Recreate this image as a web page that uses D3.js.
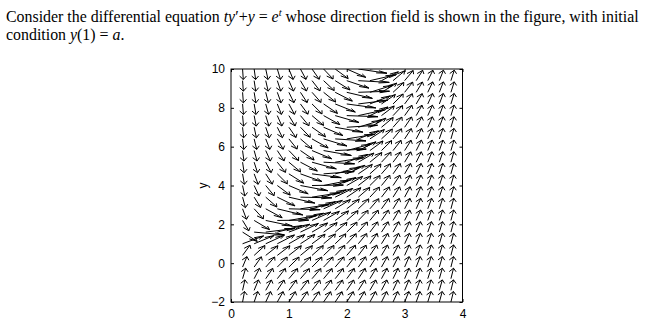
<!DOCTYPE html>
<html>
<head>
<meta charset="utf-8">
<script src="https://cdn.jsdelivr.net/npm/d3@7"></script>
<style>
  body { margin: 0; background: #fff; }
  svg { display: block; }
  .prompt { font-family: "Liberation Serif", "DejaVu Serif", serif; font-size: 15.9px; fill: #000; }
  .axis text { font-family: "Liberation Sans", Arial, sans-serif; font-size: 12px; fill: #000; }
</style>
</head>
<body>
<div id="chart"></div>
<script>
// grid of the direction field (t across, y up)
const tValues = [0.2, 0.4, 0.6, 0.8, 1.0, 1.2, 1.4, 1.6, 1.8, 2.0, 2.2, 2.4, 2.6, 2.8, 3.0, 3.2, 3.4, 3.6, 3.8];
const yValues = [-2, -1.4, -0.8, -0.2, 0.4, 1.0, 1.6, 2.2, 2.8, 3.4, 4.0, 4.6, 5.2, 5.8, 6.4, 7.0, 7.6, 8.2, 8.8, 9.4, 10];
const xTicks = [0, 1, 2, 3, 4];
const yTicks = [-2, 0, 2, 4, 6, 8, 10];
const xDomain = [0, 4];
const yDomain = [-2, 10];

// slope of t y' + y = e^t
const slope = (t, y) => (Math.exp(t) - y) / t;

const W = 654, H = 327;
const plot = { left: 231, right: 462.5, top: 69, bottom: 302 };

const svg = d3.select("#chart").append("svg")
    .attr("width", W)
    .attr("height", H);

// question text
const line1 = svg.append("text").attr("class", "prompt").attr("x", 6).attr("y", 22);
line1.append("tspan").text("Consider the differential equation ");
line1.append("tspan").attr("font-style", "italic").text("ty");
line1.append("tspan").text("\u2032+");
line1.append("tspan").attr("font-style", "italic").text("y");
line1.append("tspan").text(" = ");
line1.append("tspan").attr("font-style", "italic").text("e");
line1.append("tspan").attr("font-style", "italic").attr("font-size", "10.5px").attr("dy", -6).text("t");
line1.append("tspan").attr("dy", 6).text(" whose direction field is shown in the figure, with initial");

const line2 = svg.append("text").attr("class", "prompt").attr("x", 6).attr("y", 40);
line2.append("tspan").text("condition ");
line2.append("tspan").attr("font-style", "italic").text("y");
line2.append("tspan").text("(1) = ");
line2.append("tspan").attr("font-style", "italic").text("a");
line2.append("tspan").text(".");

const x = d3.scaleLinear().domain(xDomain).range([plot.left, plot.right]);
const y = d3.scaleLinear().domain(yDomain).range([plot.bottom, plot.top]);

svg.append("clipPath").attr("id", "clip")
    .append("rect")
    .attr("x", plot.left).attr("y", plot.top)
    .attr("width", plot.right - plot.left).attr("height", plot.bottom - plot.top);

// unit direction vectors, then autoscaled like quiver
let field = [];
for (let t of tValues) {
    for (let yv of yValues) {
        let s = slope(t, yv);
        let L = Math.sqrt(1 + s * s);
        field.push({ t, y: yv, u: 1 / L, v: s / L });
    }
}
let delx = (d3.max(tValues) - d3.min(tValues)) / tValues.length;
let dely = (d3.max(yValues) - d3.min(yValues)) / yValues.length;
let del = delx * delx + dely * dely;
let maxlen = d3.max(field, d => Math.sqrt((d.u * d.u + d.v * d.v) / del));
let k = 0.9 / maxlen;

const alpha = 0.33, beta = 0.33;
let g = svg.append("g").attr("clip-path", "url(#clip)")
    .attr("stroke", "#000").attr("stroke-width", 1).attr("fill", "none");

for (let d of field) {
    let u = d.u * k, v = d.v * k;
    let x1 = d.t + u, y1 = d.y + v;
    g.append("line")
        .attr("x1", x(d.t)).attr("y1", y(d.y))
        .attr("x2", x(x1)).attr("y2", y(y1));
    let hx = [x1 - alpha * (u + beta * v), x1, x1 - alpha * (u - beta * v)];
    let hy = [y1 - alpha * (v - beta * u), y1, y1 - alpha * (v + beta * u)];
    g.append("polyline")
        .attr("points", hx.map((hv, i) => `${x(hv)},${y(hy[i])}`).join(" "));
}

// frame and ticks
svg.append("rect")
    .attr("x", plot.left).attr("y", plot.top)
    .attr("width", plot.right - plot.left).attr("height", plot.bottom - plot.top)
    .attr("fill", "none").attr("stroke", "#000").attr("stroke-width", 1);

const tickLen = 3;
svg.append("g").attr("class", "axis")
    .attr("transform", `translate(0, ${plot.bottom})`)
    .call(d3.axisBottom(x).tickValues(xTicks).tickFormat(d3.format("d"))
        .tickSizeInner(-tickLen).tickSizeOuter(0).tickPadding(7));
svg.append("g").attr("class", "axis")
    .attr("transform", `translate(${plot.left}, 0)`)
    .call(d3.axisLeft(y).tickValues(yTicks).tickFormat(d3.format("d"))
        .tickSizeInner(-tickLen).tickSizeOuter(0).tickPadding(6));
svg.append("g").attr("class", "axis")
    .attr("transform", `translate(0, ${plot.top})`)
    .call(d3.axisTop(x).tickValues(xTicks).tickSizeInner(-tickLen).tickSizeOuter(0).tickFormat(""));
svg.append("g").attr("class", "axis")
    .attr("transform", `translate(${plot.right}, 0)`)
    .call(d3.axisRight(y).tickValues(yTicks).tickSizeInner(-tickLen).tickSizeOuter(0).tickFormat(""));
svg.selectAll(".axis .domain").remove();
svg.selectAll(".axis line").attr("stroke", "#000");

// y label
svg.append("text").attr("class", "axis")
    .attr("transform", `translate(203, ${y(4)}) rotate(-90)`)
    .attr("text-anchor", "middle")
    .attr("dy", "0.35em")
    .attr("font-family", "Liberation Sans, Arial, sans-serif")
    .attr("font-size", "12px")
    .text("y");
</script>
</body>
</html>
